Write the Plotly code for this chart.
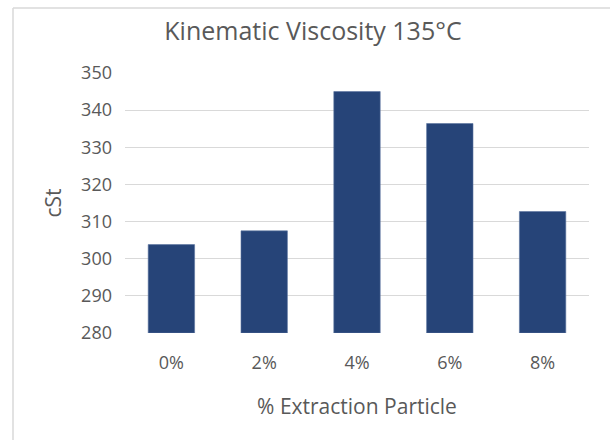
import plotly.graph_objects as go

categories = ["0%", "2%", "4%", "6%", "8%"]
values = [303.8, 307.5, 345.0, 336.4, 312.7]
y_ticks = [280, 290, 300, 310, 320, 330, 340, 350]
grid_ticks = [290, 300, 310, 320, 330, 340, 350]
y_base = 280

title_text = "Kinematic Viscosity 135°C"
x_title = "% Extraction Particle"
y_title = "cSt"

FONT = "Open Sans"
TXT = "#595959"
GRID = "#d9d9d9"
BAR = "#264478"

fig = go.Figure()
fig.add_trace(go.Bar(
    x=categories, y=[v - y_base for v in values], base=y_base, width=0.5,
    marker=dict(color=BAR, line=dict(color="#5a74a0", width=0.6)),
    yaxis="y",
))
# invisible trace so the label axis renders
fig.add_trace(go.Scatter(x=[categories[0]], y=[None], yaxis="y2", showlegend=False,
                         hoverinfo="skip"))

fig.update_layout(
    width=610, height=440,
    margin=dict(l=125, r=21, t=73, b=107),
    paper_bgcolor="white", plot_bgcolor="white",
    showlegend=False,
    title=dict(text=title_text, x=313 / 610, xref="container", xanchor="center",
               y=1 - 31 / 440, yref="container", yanchor="middle",
               font=dict(family=FONT, size=25, color=TXT)),
    xaxis=dict(
        showgrid=False, showline=False, zeroline=False, ticks="",
        tickfont=dict(family=FONT, size=18, color=TXT),
        ticklabelstandoff=17,
        title=dict(text=x_title, font=dict(family=FONT, size=21, color=TXT), standoff=26),
    ),
    yaxis=dict(
        range=[280, 350], tickvals=grid_ticks, showticklabels=False,
        showgrid=True, gridcolor=GRID, gridwidth=1.3,
        zeroline=False, showline=False, ticks="",
    ),
    yaxis2=dict(
        range=[280, 350], tickvals=y_ticks, overlaying="y", side="left",
        showgrid=False, zeroline=False, showline=False, ticks="",
        ticklabelstandoff=12,
        tickfont=dict(family=FONT, size=18, color=TXT),
        title=dict(text=y_title, font=dict(family=FONT, size=21, color=TXT), standoff=13),
    ),
    shapes=[
        dict(type="line", xref="paper", yref="paper",
             x0=(13 - 125) / 464, x1=1.2, y0=(333 - 8) / 260, y1=(333 - 8) / 260,
             line=dict(color="#d9d9d9", width=1.5)),
        dict(type="line", xref="paper", yref="paper",
             x0=(13 - 125) / 464, x1=(13 - 125) / 464, y0=(333 - 8) / 260, y1=-0.6,
             line=dict(color="#d9d9d9", width=1.5)),
    ],
)

fig.write_html("out.html")
